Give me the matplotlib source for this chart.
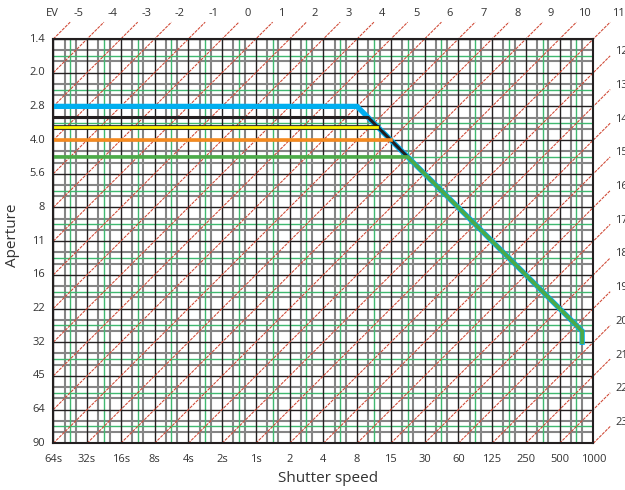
import numpy as np
import matplotlib
matplotlib.use('Agg')
import matplotlib.pyplot as plt
import matplotlib.patheffects as pe

plt.rcParams['font.family'] = ['Open Sans', 'DejaVu Sans']

# Axis labels (one full stop per label):
lstShtLbl = ['64s', '32s', '16s', '8s', '4s', '2s', '1s', '2', '4', '8',
             '15', '30', '60', '125', '250', '500', '1000']
lstApeLbl = ['1.4', '2.0', '2.8', '4.0', '5.6', '8', '11', '16', '22', '32',
             '45', '64', '90']

# Exposure values drawn as diagonal lines:
vecEv = np.arange(-5, 24)
varEvOff = 5  # EV of the line through 64s / f1.4 is -5

# Program lines, in stops (shutter stops from 64s, aperture stops from f1.4):
lstBluSht = [0, 9, 15.67, 15.67]
lstBluApe = [2, 2, 8.67, 9]
lstBlkSht = [0, 9.33, 10.5]
lstBlkApe = [2.33, 2.33, 3.5]
lstYelSht = [0, 9.6]
lstYelApe = [2.6, 2.6]
lstOrnSht = [0, 10]
lstOrnApe = [3, 3]
lstGrnSht = [0, 10.5, 15.67, 15.67]
lstGrnApe = [3.5, 3.5, 8.67, 9]

varNumX = len(lstShtLbl) - 1
varNumY = len(lstApeLbl) - 1
strTxtClr = '#333333'

fgr01 = plt.figure(figsize=(6.25, 4.9), dpi=100)
axs01 = fgr01.add_axes([53.3 / 625, 1 - 443.3 / 490,
                        540 / 625, 404.3 / 490])
axs01.set_xlim(0, varNumX)
axs01.set_ylim(varNumY, 0)

# Grid: thirds (grey), halves (green), full stops (black):
for varPos in np.arange(varNumX):
    for varFrc in (1 / 3, 2 / 3):
        axs01.axvline(varPos + varFrc, color='#858585', lw=1.5, zorder=1)
    axs01.axvline(varPos + 0.5, color='#3fb870', lw=1.0, zorder=2)
    axs01.axvline(varPos, color='#231f20', lw=1.0, zorder=3)
for varPos in np.arange(varNumY):
    for varFrc in (1 / 3, 2 / 3):
        axs01.axhline(varPos + varFrc, color='#858585', lw=1.5, zorder=1)
    axs01.axhline(varPos + 0.5, color='#3fb870', lw=1.0, zorder=2)
    axs01.axhline(varPos, color='#231f20', lw=1.0, zorder=3)

# EV lines (x + y = EV + 5), extended half a stop beyond top / right:
for varEv in vecEv:
    varSum = varEv + varEvOff
    if varSum <= varNumY:
        tplLo = (0, varSum)
    else:
        tplLo = (varSum - varNumY, varNumY)
    if varSum <= varNumX:
        tplHi = (varSum, 0)
    else:
        tplHi = (varNumX, varSum - varNumX)
    axs01.plot([tplLo[0], tplHi[0] + 0.5], [tplLo[1], tplHi[1] - 0.5],
               color='#cf4632', lw=0.75, ls=(0, (3, 1)),
               clip_on=False, zorder=4)
    if varSum <= varNumX:
        axs01.text(varSum + 0.75, -0.77, str(varEv), fontsize=8,
                   color=strTxtClr, ha='center', va='center')
    else:
        axs01.text(varNumX + 0.65, varSum - varNumX - 0.62, str(varEv),
                   fontsize=8, color=strTxtClr, ha='left', va='center')
axs01.text(-0.03, -0.77, 'EV', fontsize=8, color=strTxtClr,
           ha='center', va='center')

# Program lines:
axs01.plot(lstBluSht, lstBluApe, color='#00aeef', lw=3.8, zorder=6,
           solid_joinstyle='miter')
axs01.plot(lstBlkSht, lstBlkApe, color='#231f20', lw=2.2, zorder=7)
axs01.plot(lstYelSht, lstYelApe, color='#fff200', lw=2.0, zorder=7,
           path_effects=[pe.Stroke(linewidth=3.4, foreground='#231f20'),
                         pe.Normal()])
axs01.plot(lstOrnSht, lstOrnApe, color='#f58a1f', lw=2.6, zorder=7)
axs01.plot(lstGrnSht, lstGrnApe, color='#4caa48', lw=2.6, zorder=8,
           solid_joinstyle='miter')

# Frame:
for strSpn in axs01.spines:
    axs01.spines[strSpn].set_linewidth(1.5)
    axs01.spines[strSpn].set_color('#231f20')
    axs01.spines[strSpn].set_zorder(9)

# Tick labels as text (no tick marks):
axs01.set_xticks([])
axs01.set_yticks([])
for idxLbl, strLbl in enumerate(lstShtLbl):
    axs01.text(idxLbl, varNumY + 0.47, strLbl, fontsize=8, color=strTxtClr,
               ha='center', va='center')
for idxLbl, strLbl in enumerate(lstApeLbl):
    axs01.text(-0.24, idxLbl, strLbl, fontsize=8, color=strTxtClr,
               ha='right', va='center')

fgr01.text(328 / 625, 1 - 478 / 490, 'Shutter speed', fontsize=11,
           color=strTxtClr, ha='center', va='center')
fgr01.text(13 / 625, 1 - 235 / 490, 'Aperture', fontsize=11,
           color=strTxtClr, ha='center', va='center', rotation=90)

fgr01.savefig('out.png', dpi=100, facecolor='w')
plt.close(fgr01)
